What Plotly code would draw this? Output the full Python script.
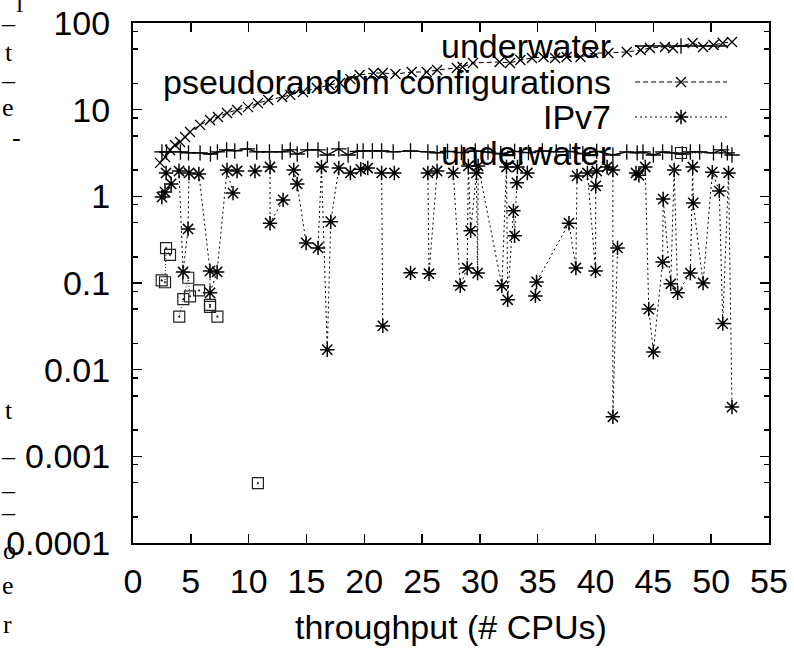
import plotly.graph_objects as go

# ---------------- data ----------------
# series 1 "underwater" (solid line, + markers)
under1_x = [2.5, 2.9, 4.1, 4.8, 5.8, 6.7, 7.3, 8.1, 8.8, 9.9, 10.7, 11.8, 12.9, 13.6, 14.2, 15.1,
            16.0, 16.8, 17.8, 18.6, 19.4, 19.9, 20.7, 21.5, 22.5, 24.0, 25.5, 26.3, 27.2, 28.4,
            29.6, 30.7, 31.8, 33.0, 34.2, 35.4, 36.6, 37.8, 38.9, 40.1, 41.5, 42.7, 43.6, 44.1,
            45.0, 45.8, 46.6, 47.5, 48.2, 49.0, 50.2, 50.9, 51.4, 51.8]
under1_y = [3.25, 3.25, 3.25, 3.17, 3.17, 3.08, 3.25, 3.43, 3.34, 3.52, 3.25, 3.25, 3.25, 3.43, 3.08, 3.43,
            3.43, 3.0, 3.52, 3.0, 3.3, 3.34, 3.34, 3.34, 3.25, 3.34, 3.25, 3.17, 3.3, 3.2,
            3.35, 3.25, 3.1, 3.3, 3.2, 3.35, 3.25, 3.3, 3.1, 3.3, 3.0, 3.25, 3.17, 3.25,
            3.0, 3.25, 3.17, 3.08, 3.25, 3.25, 3.17, 3.43, 3.17, 3.0]

# series 2 "pseudorandom configurations" (dashed, x markers)
pseudo_x = [2.34, 2.77, 3.2, 3.63, 4.07, 4.5, 4.93, 5.8, 6.66, 7.35, 8.13, 9.0, 9.95, 10.8, 11.7,
            12.9, 13.6, 14.7, 15.9, 17.0, 17.9, 18.8, 19.6, 20.8, 21.6, 22.7, 24.1, 25.4, 26.3,
            28.0, 28.5, 29.4, 31.7, 32.6, 33.5, 34.5, 35.5, 36.5, 37.5, 38.7, 39.8, 41.1, 42.7,
            43.9, 44.7, 46.0, 46.7, 48.4, 49.3, 50.2, 51.0, 51.8]
pseudo_y = [2.43, 2.85, 3.43, 3.92, 4.24, 4.84, 5.53, 6.67, 7.6, 8.24, 9.17, 9.93, 10.7, 11.9, 12.9,
            14.0, 14.8, 16.0, 17.8, 19.3, 20.3, 22.5, 25.1, 26.5, 26.5, 25.8, 27.2, 27.2, 28.7,
            30.3, 31.1, 34.6, 35.5, 34.6, 37.4, 39.5, 40.5, 39.5, 40.5, 40.6, 45.1, 45.1, 46.3,
            48.8, 51.5, 52.9, 51.5, 58.8, 52.9, 55.7, 58.8, 60.4]

# series 3 "IPv7" (dotted, * markers); None = break in the line
ipv7_x = [2.5, 2.77, 3.3, None, 2.86, None, 3.98, 4.33, 4.76, 4.84, None, 5.7, 6.66, 6.66, 7.27, 8.13,
          8.65, None, 9.0, None, 10.55, None, 11.85, 11.85, 12.98, None, 13.9, 14.2, 14.97, None,
          16.0, 16.3, 16.8, 17.1, 17.8, None, 18.8, None, 19.7, 20.3, None, 21.5, 21.6, None, 22.6,
          None, 24.0, None, 25.5, 25.6, 26.3, None, 27.7, 28.3, 28.9, 29.0, 29.2, 29.7, 29.8, 29.85,
          31.9, 32.3, 32.4, 32.9, 33.0, 33.2, 33.25, None, 34.1, None, 34.8, 34.9, 37.7, 38.3, 38.4,
          None, 39.3, 40.0, 40.02, 40.1, None, 41.0, None, 41.5, 41.5, 41.9, None, 43.5, 43.75, 44.3,
          44.6, 45.0, 45.8, 45.85, 46.5, 46.8, 47.1, 48.2, 48.4, 48.45, 49.3, 50.1, 50.7, 51.0,
          51.5, 51.8]
ipv7_y = [0.98, 1.12, 1.39, None, 1.86, None, 1.96, 0.134, 0.42, 1.86, None, 1.81, 0.138, 0.077, 0.134, 2.01,
          1.09, None, 1.96, None, 1.96, None, 2.18, 0.49, 0.91, None, 2.01, 1.39, 0.29, None,
          0.254, 2.18, 0.017, 0.51, 2.12, None, 1.86, None, 2.05, 2.12, None, 1.86, 0.032, None, 1.86,
          None, 0.131, None, 1.86, 0.128, 1.96, None, 1.86, 0.093, 0.149, 2.24, 0.40, 1.86, 0.13, 2.24,
          0.093, 2.18, 0.064, 0.68, 0.35, 1.43, 2.18, None, 1.86, None, 0.071, 0.103, 0.49, 0.149, 1.72,
          None, 1.86, 0.138, 1.32, 1.96, None, 2.18, None, 2.01, 0.00286, 0.254, None, 1.86, 1.75, 2.18,
          0.050, 0.016, 0.175, 0.93, 0.098, 2.01, 0.077, 0.13, 2.18, 0.84, 0.10, 1.90, 1.15, 0.034,
          1.86, 0.0037]

# series 4 "underwater" (squares)
under2_x = [2.48, 2.77, 2.86, 3.2, None, 4.0, 4.35, 4.78, 4.93, None, 5.71, None, 6.66, 6.66, None, 7.3, None, 10.8]
under2_y = [0.107, 0.102, 0.252, 0.211, None, 0.041, 0.065, 0.115, 0.070, None, 0.082, None, 0.056, 0.053, None, 0.041, None, 0.00049]

legend_names = ["underwater", "pseudorandom configurations", "IPv7", "underwater"]

y_tickvals = [0.0001, 0.001, 0.01, 0.1, 1, 10, 100]
y_ticktext = ["0.0001", "0.001", "0.01", "0.1", "1", "10", "100"]
x_tickvals = list(range(0, 56, 5))
x_title = "throughput (# CPUs)"

# clipped fragments of surrounding page text at the left edge (pixel positions)
margin_frag = ["l", "–", "t", "–", "e", "-", "t", "–", "–", "¯", "o", "e", "r"]
margin_frag_y = [4, 24, 52, 80, 108, 137, 410, 456, 490, 524, 550, 585, 625]
margin_frag_x = [19, 9, 9, 9, 8, 16, 9, 9, 9, 9, 10, 8, 8]

# ---------------- layout geometry (pixels) ----------------
W, H = 794, 648
L, R, T, B = 133, 769, 23, 543
PW, PH = R - L, B - T
FONT = "Liberation Sans, Arial, Helvetica, sans-serif"
FS = 34


def px(xp):
    return (xp - L) / PW


def py(yp):
    return (B - yp) / PH


LINE1 = dict(color="black", width=1.3)
LINE2 = dict(color="black", width=1, dash="5px,3px")
LINE3 = dict(color="black", width=1, dash="2px,3px")
LINE4 = dict(color="#222", width=1, dash="1px,2px")
MK1 = dict(symbol="cross-thin-open", size=11, color="black", line=dict(color="black", width=1.3))
MK2 = dict(symbol="x-thin-open", size=10, color="black", line=dict(color="black", width=1.3))
MK3 = dict(symbol="asterisk-open", size=12, color="black", line=dict(color="black", width=1.5))
MK4 = dict(symbol="square-open-dot", size=11, color="#222", line=dict(color="#222", width=1.2))

fig = go.Figure()

fig.add_trace(go.Scatter(x=under1_x, y=under1_y, mode="lines+markers", line=LINE1, marker=MK1, showlegend=False))
fig.add_trace(go.Scatter(x=pseudo_x, y=pseudo_y, mode="lines+markers", line=LINE2, marker=MK2, showlegend=False))
fig.add_trace(go.Scatter(x=ipv7_x, y=ipv7_y, mode="lines+markers", connectgaps=False, line=LINE3, marker=MK3,
                         showlegend=False))
fig.add_trace(go.Scatter(x=under2_x, y=under2_y, mode="lines+markers", connectgaps=False, line=LINE4, marker=MK4,
                         showlegend=False))

# ---- key (gnuplot style: text right-aligned, sample to its right) ----
row_y = [46, 82, 117, 153]
sample_x0, sample_x1 = 635, 727
styles = [(LINE1, MK1), (LINE2, MK2), (LINE3, MK3), (LINE4, MK4)]
for name, ry, (ln, mk) in zip(legend_names, row_y, styles):
    fig.add_trace(go.Scatter(x=[px(sample_x0), px(sample_x1)], y=[py(ry), py(ry)], mode="lines",
                             line=ln, xaxis="x2", yaxis="y2", showlegend=False, hoverinfo="skip"))
    fig.add_trace(go.Scatter(x=[px((sample_x0 + sample_x1) / 2)], y=[py(ry)], mode="markers",
                             marker=mk, xaxis="x2", yaxis="y2", showlegend=False, hoverinfo="skip"))
    fig.add_annotation(x=px(613), y=py(ry), xref="paper", yref="paper", text=name, showarrow=False,
                       xanchor="right", yanchor="middle", font=dict(family=FONT, size=FS, color="black"))

for t, fx, fy in zip(margin_frag, margin_frag_x, margin_frag_y):
    fig.add_annotation(x=px(fx), y=py(fy), xref="paper", yref="paper", text=t, showarrow=False,
                       xanchor="center", yanchor="middle",
                       font=dict(family="Liberation Serif, Times New Roman, serif", size=26, color="black"))

# x axis title
fig.add_annotation(x=0.5, y=py(627), xref="paper", yref="paper", text=x_title, showarrow=False,
                   xanchor="center", yanchor="middle", font=dict(family=FONT, size=FS, color="black"))

minor_y = []
for e in range(-4, 2):
    for m in (2, 5, 8):
        minor_y.append(m * 10 ** e)

fig.update_layout(
    width=W, height=H,
    margin=dict(l=L, r=W - R, t=T, b=H - B, pad=0, autoexpand=False),
    paper_bgcolor="white", plot_bgcolor="white",
    font=dict(family=FONT, size=FS, color="black"),
    hovermode=False,
    xaxis=dict(range=[0, 55], tickvals=x_tickvals, ticks="inside", ticklen=9, tickwidth=1.5,
               tickcolor="black", showline=True, linecolor="black", linewidth=2, mirror="ticks",
               showgrid=False, zeroline=False, ticklabelstandoff=7, automargin=False,
               ticklabeloverflow="allow"),
    yaxis=dict(type="log", range=[-4, 2], tickvals=y_tickvals, ticktext=y_ticktext,
               ticks="inside", ticklen=9, tickwidth=1.5, tickcolor="black",
               showline=True, linecolor="black", linewidth=2, mirror="ticks",
               showgrid=False, zeroline=False, ticklabelstandoff=14, automargin=False,
               ticklabeloverflow="allow",
               minor=dict(tickvals=minor_y, ticks="inside", ticklen=5, tickwidth=1.5, tickcolor="black",
                          showgrid=False)),
    xaxis2=dict(overlaying="x", range=[0, 1], visible=False, anchor="y2"),
    yaxis2=dict(overlaying="y", range=[0, 1], visible=False, anchor="x2"),
)

fig.write_html("out.html", config={"displayModeBar": False, "staticPlot": True},
               post_script="document.body.style.margin='0';document.body.style.overflow='hidden';")
